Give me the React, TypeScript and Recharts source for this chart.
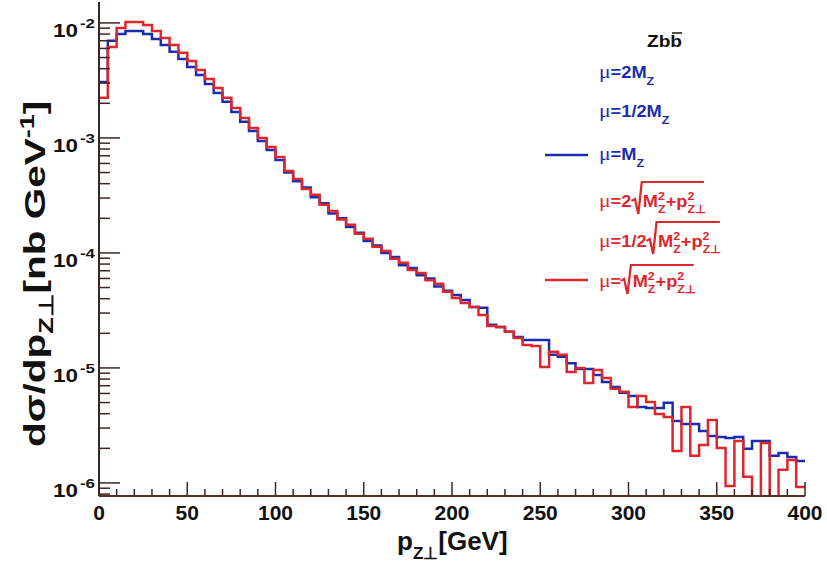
import React from 'react'
import { LineChart, Line, XAxis, YAxis } from 'recharts'

// histogram contents, 5 GeV bins from 0 to 400 GeV
const blueValues = [
  3.07e-3, 7.0e-3, 8.0e-3, 8.5e-3, 8.5e-3, 8.0e-3, 7.26e-3, 6.44e-3, 5.6e-3, 4.86e-3,
  4.14e-3, 3.53e-3, 2.95e-3, 2.46e-3, 2.06e-3, 1.68e-3, 1.38e-3, 1.15e-3, 9.42e-4, 7.87e-4,
  6.44e-4, 5.0e-4, 4.2e-4, 3.7e-4, 3.05e-4, 2.7e-4, 2.2e-4, 2.0e-4, 1.68e-4, 1.5e-4,
  1.27e-4, 1.16e-4, 1.0e-4, 9.2e-5, 7.8e-5, 7.4e-5, 6.4e-5, 6.0e-5, 5.1e-5, 4.7e-5,
  4.31e-5, 3.9e-5, 3.39e-5, 3.33e-5, 2.37e-5, 2.27e-5, 2.06e-5, 1.86e-5, 1.75e-5, 1.75e-5,
  1.75e-5, 1.3e-5, 1.25e-5, 1.1e-5, 9.8e-6, 9.8e-6, 8.7e-6, 7.55e-6, 6.84e-6, 6.07e-6,
  5.71e-6, 4.58e-6, 4.49e-6, 4.49e-6, 4.97e-6, 3.46e-6, 3.26e-6, 3.26e-6, 2.83e-6, 2.56e-6,
  2.51e-6, 2.46e-6, 2.51e-6, 1.98e-6, 2.32e-6, 2.32e-6, 1.72e-6, 1.82e-6, 1.68e-6, 1.55e-6
]

const redValues = [
  2.23e-3, 6.18e-3, 9.05e-3, 1.02e-2, 1.02e-2, 9.61e-3, 8.52e-3, 7.41e-3, 6.44e-3, 5.49e-3,
  4.67e-3, 3.9e-3, 3.26e-3, 2.72e-3, 2.23e-3, 1.82e-3, 1.49e-3, 1.22e-3, 1.0e-3, 8.35e-4,
  6.84e-4, 5.15e-4, 4.4e-4, 3.6e-4, 3.2e-4, 2.62e-4, 2.32e-4, 1.95e-4, 1.76e-4, 1.47e-4,
  1.33e-4, 1.13e-4, 1.04e-4, 8.9e-5, 8.2e-5, 7.1e-5, 6.7e-5, 5.8e-5, 5.4e-5, 4.6e-5,
  4.06e-5, 3.67e-5, 3.39e-5, 2.89e-5, 2.32e-5, 2.27e-5, 2.06e-5, 1.82e-5, 1.58e-5, 1.55e-5,
  1.02e-5, 1.38e-5, 1.3e-5, 9.23e-6, 1.0e-5, 7.41e-6, 9.61e-6, 8.18e-6, 6.6e-6, 6.2e-6,
  4.58e-6, 5.71e-6, 5.06e-6, 3.98e-6, 3.75e-6, 1.9e-6, 4.58e-6, 1.72e-6, 2.14e-6, 3.53e-6,
  2.01e-6, 9.42e-7, 2.32e-6, 1.13e-6, 6.0e-7, 2.23e-6, 6.0e-7, 1.3e-6, 1.58e-6, 9.23e-7
]

const BIN_WIDTH = 5
const X_MAX = 400
const binLow = blueValues.map((_, i) => i * BIN_WIDTH)

const xTicks = [
  0, 10, 20, 30, 40, 50, 60, 70, 80, 90, 100, 110, 120, 130, 140, 150, 160, 170, 180, 190, 200,
  210, 220, 230, 240, 250, 260, 270, 280, 290, 300, 310, 320, 330, 340, 350, 360, 370, 380, 390, 400
]
const majorYTicks = [1e-2, 1e-3, 1e-4, 1e-5, 1e-6]
const minorYTicks = [
  2e-3, 3e-3, 4e-3, 5e-3, 6e-3, 7e-3, 8e-3, 9e-3,
  2e-4, 3e-4, 4e-4, 5e-4, 6e-4, 7e-4, 8e-4, 9e-4,
  2e-5, 3e-5, 4e-5, 5e-5, 6e-5, 7e-5, 8e-5, 9e-5,
  2e-6, 3e-6, 4e-6, 5e-6, 6e-6, 7e-6, 8e-6, 9e-6,
  8e-7, 9e-7
]
const yDomain = [7.7e-7, 0.0152]

const data = [
  ...binLow.map((x, i) => ({ x, blue: blueValues[i], red: redValues[i] })),
  { x: X_MAX, blue: blueValues[blueValues.length - 1], red: redValues[redValues.length - 1] }
]

const W = 827
const H = 582
const PLOT_LEFT = 99
const PLOT_BOTTOM = 496
const BLUE = '#1c2cae'
const RED = '#dd272c'
const FRAME = '#3e2626'
const FONT = '"Liberation Sans", Arial, Helvetica, sans-serif'

const XTick = ({ x, payload }: any) => {
  const v = payload.value
  const major = v % 50 === 0
  return (
    <g>
      <line x1={x} x2={x} y1={PLOT_BOTTOM} y2={PLOT_BOTTOM - (major ? 14 : 7)} stroke={FRAME} strokeWidth={1.5} />
      {major && (
        <text x={x} y={520} textAnchor="middle" fontFamily={FONT} fontWeight="bold" fontSize={21} fill="#111">
          {v}
        </text>
      )}
    </g>
  )
}

const YTick = ({ y, payload }: any) => {
  const v = payload.value
  const major = majorYTicks.includes(v)
  const exp = Math.round(Math.log10(v))
  return (
    <g>
      <line x1={PLOT_LEFT} x2={PLOT_LEFT + (major ? 21 : 11)} y1={y} y2={y} stroke={FRAME} strokeWidth={1.5} />
      {major && (
        <g fontFamily={FONT} fontWeight="bold" fill="#111">
          <text x={53} y={y + 14} fontSize={18} textLength={25} lengthAdjust="spacingAndGlyphs">10</text>
          <text x={80} y={y + 5} fontSize={13} textLength={15} lengthAdjust="spacingAndGlyphs">{exp}</text>
        </g>
      )}
    </g>
  )
}

const Mu = () => (
  <tspan fontFamily='"Liberation Serif", "DejaVu Serif", serif' fontWeight="normal" fontSize={19}>μ</tspan>
)

// sqrt(M_Z^2 + p_Z⊥^2) written after a radical gap
const SqrtBody = () => (
  <>
    <tspan dx={10}>M</tspan>
    <tspan fontSize={11} dy={-7}>2</tspan>
    <tspan fontSize={11} dx={-6.1} dy={13}>Z</tspan>
    <tspan dy={-6}>+p</tspan>
    <tspan fontSize={11} dy={-7}>2</tspan>
    <tspan fontSize={11} dx={-6.1} dy={13}>Z⊥</tspan>
  </>
)

const radical = (x0: number, top: number, bottom: number, end: number) =>
  `M ${x0} ${bottom - 13} L ${x0 + 3} ${bottom - 15} L ${x0 + 6} ${bottom} L ${x0 + 9} ${top} L ${end} ${top}`

const Legend = () => (
  <svg width={W} height={H} style={{ position: 'absolute', left: 0, top: 0, pointerEvents: 'none' }}>
    <text x={647} y={47} fontFamily={FONT} fontWeight="bold" fontSize={16} fill="#111" textLength={35} lengthAdjust="spacingAndGlyphs">Zbb</text>
    <line x1={672} x2={682} y1={33} y2={33} stroke="#111" strokeWidth={1.5} />

    <line x1={545} x2={588} y1={155} y2={155} stroke={BLUE} strokeWidth={2.5} />
    <line x1={545} x2={588} y1={280} y2={280} stroke={RED} strokeWidth={2.5} />

    <g transform="translate(599 0) scale(1.14 1) translate(-599 0)" fontFamily={FONT} fontWeight="bold" fontSize={16}>
      <text x={599} y={78} fill={BLUE}>
        <Mu /><tspan>=2M</tspan><tspan fontSize={11} dy={7}>Z</tspan>
      </text>
      <text x={599} y={117} fill={BLUE}>
        <Mu /><tspan>=1/2M</tspan><tspan fontSize={11} dy={7}>Z</tspan>
      </text>
      <text x={599} y={160} fill={BLUE}>
        <Mu /><tspan>=M</tspan><tspan fontSize={11} dy={7}>Z</tspan>
      </text>

      <text x={599} y={207} fill={RED}>
        <Mu /><tspan>=2</tspan><SqrtBody />
      </text>
      <path d={radical(627.5, 182, 214, 691)} fill="none" stroke={RED} strokeWidth={2} />

      <text x={599} y={247} fill={RED}>
        <Mu /><tspan>=1/2</tspan><SqrtBody />
      </text>
      <path d={radical(640.5, 222, 254, 705)} fill="none" stroke={RED} strokeWidth={2} />

      <text x={599} y={287} fill={RED}>
        <Mu /><tspan>=</tspan><SqrtBody />
      </text>
      <path d={radical(618, 265, 294, 682)} fill="none" stroke={RED} strokeWidth={2} />
    </g>

    <text x={397} y={550} fontFamily={FONT} fontWeight="bold" fontSize={26} fill="#111">
      <tspan>p</tspan>
      <tspan fontSize={17} dy={9}>Z⊥</tspan>
      <tspan dy={-9}>[GeV]</tspan>
    </text>

    <text
      transform="translate(45 447) rotate(-90) scale(1.35 1)"
      fontFamily={FONT}
      fontWeight="bold"
      fontSize={30}
      fill="#111"
    >
      <tspan>dσ/dp</tspan>
      <tspan fontSize={20} dy={8}>Z⊥</tspan>
      <tspan dy={-8}>[nb GeV</tspan>
      <tspan fontSize={20} dy={-11}>-1</tspan>
      <tspan dy={11}>]</tspan>
    </text>
  </svg>
)

export default function App() {
  return (
    <div style={{ position: 'absolute', left: 0, top: 0, width: W, height: H, background: '#fff' }}>
      <LineChart width={W} height={H} data={data} margin={{ top: 2, right: 22, left: 0, bottom: 56 }}>
        <XAxis
          dataKey="x"
          type="number"
          domain={[0, X_MAX]}
          ticks={xTicks}
          interval={0}
          height={30}
          tickLine={false}
          tick={(p: any) => <XTick {...p} />}
          axisLine={{ stroke: '#5a2c2c', strokeWidth: 2 }}
        />
        <XAxis
          xAxisId="top"
          orientation="top"
          dataKey="x"
          type="number"
          domain={[0, X_MAX]}
          height={0}
          tick={false}
          tickLine={false}
          axisLine={{ stroke: FRAME, strokeWidth: 2 }}
        />
        <YAxis
          type="number"
          scale="log"
          domain={yDomain}
          allowDataOverflow
          ticks={[...majorYTicks, ...minorYTicks]}
          interval={0}
          width={99}
          tickLine={false}
          tick={(p: any) => <YTick {...p} />}
          axisLine={{ stroke: FRAME, strokeWidth: 2 }}
        />
        <YAxis
          yAxisId="right"
          orientation="right"
          type="number"
          scale="log"
          domain={yDomain}
          allowDataOverflow
          width={0}
          tick={false}
          tickLine={false}
          axisLine={{ stroke: '#7c1f1f', strokeWidth: 2 }}
        />
        <Line
          type="stepAfter"
          dataKey="blue"
          stroke={BLUE}
          strokeWidth={2.5}
          dot={false}
          isAnimationActive={false}
        />
        <Line
          type="stepAfter"
          dataKey="red"
          stroke={RED}
          strokeWidth={2.5}
          dot={false}
          isAnimationActive={false}
        />
      </LineChart>
      <Legend />
    </div>
  )
}
